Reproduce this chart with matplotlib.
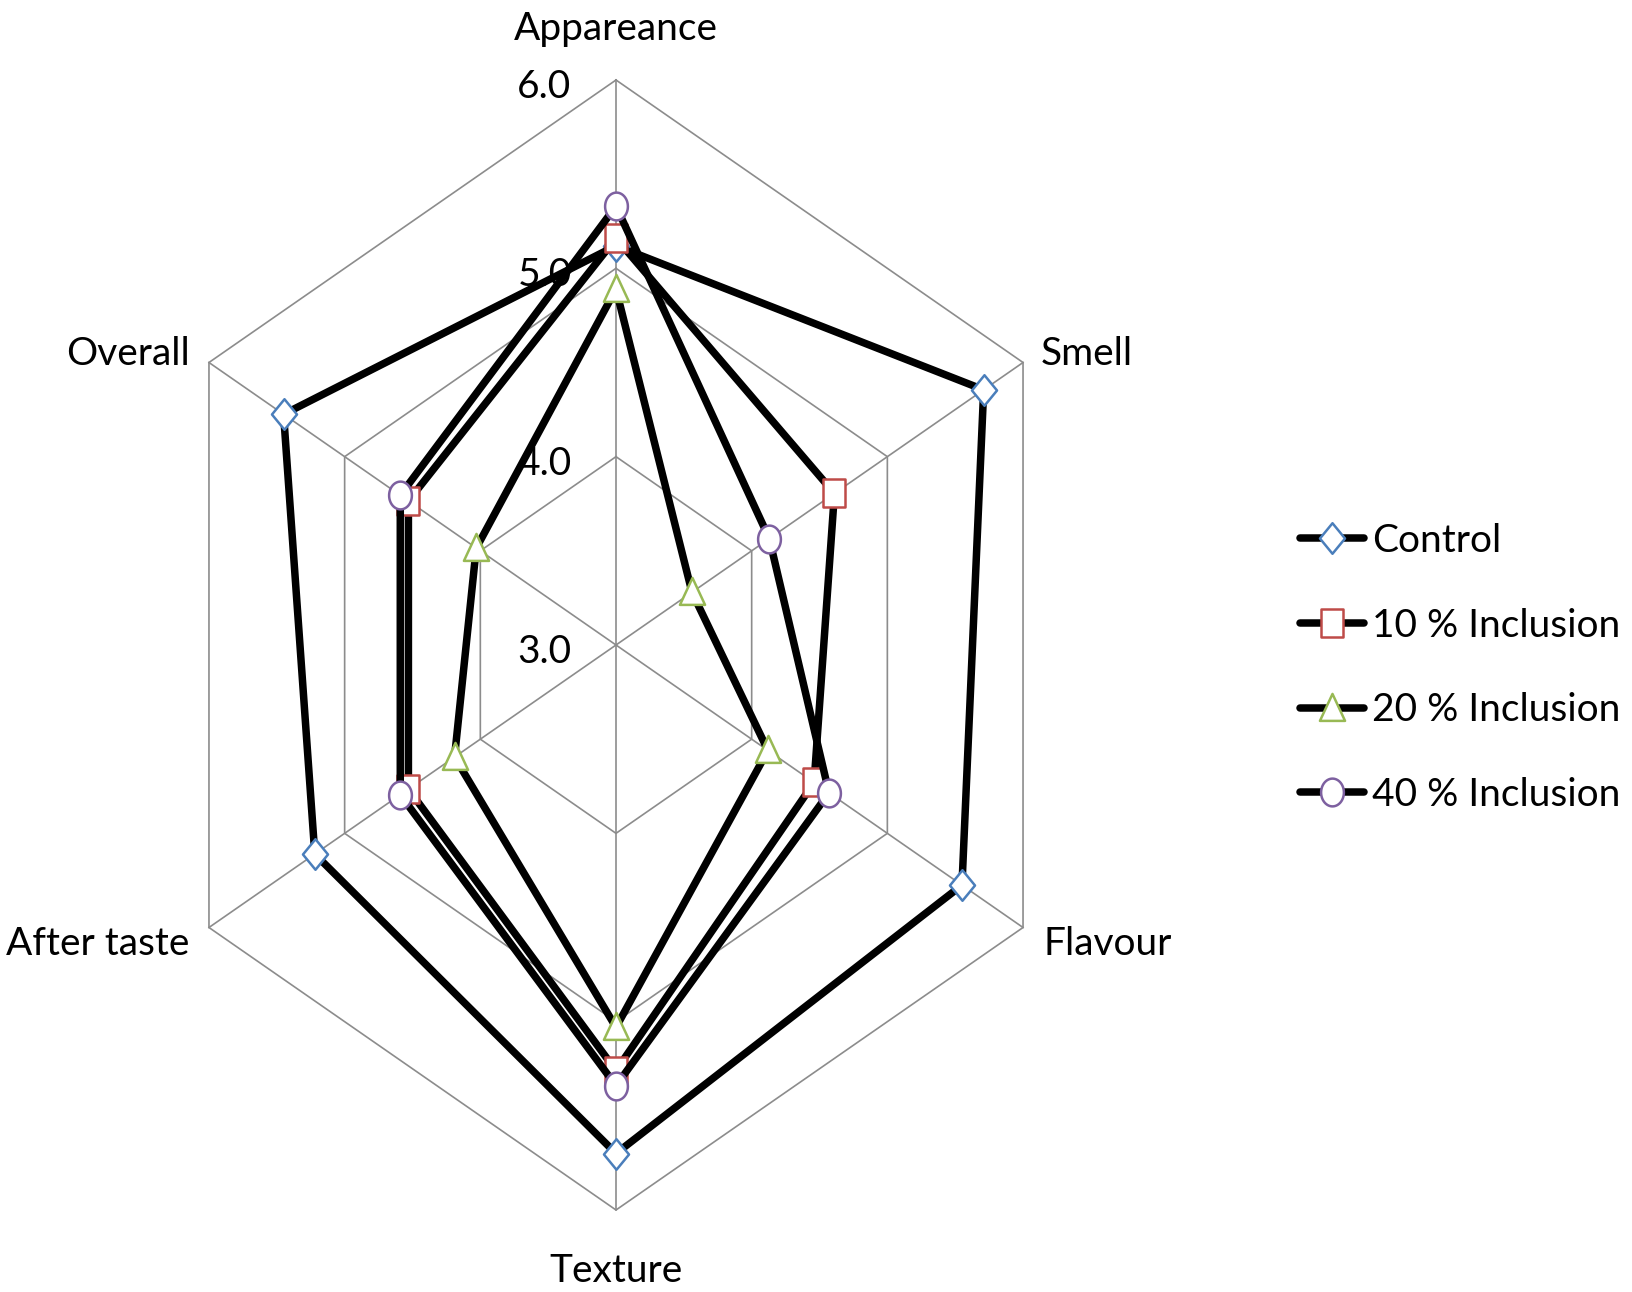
import numpy as np
import matplotlib
matplotlib.use("Agg")
import matplotlib.pyplot as plt
from matplotlib.path import Path
from matplotlib.lines import Line2D

plt.rcParams['font.family'] = ['Lato', 'DejaVu Sans']

# sensory scores
categories = ["Appareance", "Smell", "Flavour", "Texture", "After taste", "Overall"]
control = [5.12, 5.71, 5.55, 5.70, 5.22, 5.45]
incl_10 = [5.16, 4.61, 4.46, 5.26, 4.53, 4.53]
incl_20 = [4.89, 3.56, 4.12, 5.03, 4.19, 4.03]
incl_40 = [5.33, 4.13, 4.57, 5.34, 4.59, 4.59]
series_names = ["Control", "10 % Inclusion", "20 % Inclusion", "40 % Inclusion"]
ticks = [3.0, 4.0, 5.0, 6.0]

RMIN, RMAX = 3.0, 6.0
FS = 28
LW = 5.4

n = len(categories)
theta = np.arange(n) * 2 * np.pi / n


def to_xy(vals):
    r = np.asarray(vals, dtype=float) - RMIN
    return r * np.sin(theta), r * np.cos(theta)


def closed(a):
    return np.append(a, a[0])


# markers a bit taller than wide
def shape(verts):
    v = np.array(verts, dtype=float)
    v[:, 0] *= 0.82
    return Path(np.vstack([v, v[:1]]), closed=True)

t = np.linspace(0, 2 * np.pi, 60)
m_circle = Path(np.column_stack([0.82 * np.cos(t), np.sin(t)]), closed=True)
m_diamond = shape([(0, 1), (1, 0), (0, -1), (-1, 0)])
m_square = shape([(-1, -1), (1, -1), (1, 1), (-1, 1)])
m_triangle = shape([(0, 1), (1.05, -0.85), (-1.05, -0.85)])

styles = [
    (control, m_diamond, '#4a7ebb', 22),
    (incl_10, m_square, '#be4b48', 20),
    (incl_20, m_triangle, '#98b954', 21),
    (incl_40, m_circle, '#7d60a0', 20),
]

fig = plt.figure(figsize=(16.32, 12.92), dpi=100)
ax = fig.add_axes([146 / 1632, 82 / 1292, 940 / 1632, 1130 / 1292])
ax.set_xlim(-3, 3)
ax.set_ylim(-3, 3)
ax.axis('off')

grid_c = '#8c8c8c'
for tv in ticks[1:]:
    gx, gy = to_xy([tv] * n)
    ax.plot(closed(gx), closed(gy), color=grid_c, lw=1.2, zorder=1, clip_on=False)
sx, sy = to_xy([RMAX] * n)
for i in range(n):
    ax.plot([0, sx[i]], [0, sy[i]], color=grid_c, lw=1.2, zorder=1, clip_on=False)

for tv in ticks:
    ax.annotate(f"{tv:.1f}", xy=(0, tv - RMIN), xytext=(-32, -5), textcoords='offset points',
                ha='right', va='center', fontsize=FS, zorder=0)

# category labels around the web
lab_off = [((0, 37), 'center'), ((13, 6), 'left'), ((15, -12), 'left'),
           ((0, -44), 'center'), ((-14, -12), 'right'), ((-14, 6), 'right')]
for i, name in enumerate(categories):
    off, ha = lab_off[i]
    ax.annotate(name, xy=(sx[i], sy[i]), xytext=off, textcoords='offset points',
                ha=ha, va='center', fontsize=FS, annotation_clip=False)

handles = []
for k, (vals, mk, col, ms) in enumerate(styles):
    x, y = to_xy(vals)
    ax.plot(closed(x), closed(y), color='black', lw=LW, zorder=3 + k, clip_on=False,
            solid_joinstyle='miter')
    ax.plot(x, y, ls='none', marker=mk, ms=ms, mfc='white', mec=col, mew=1.8,
            zorder=3 + k, clip_on=False)
    handles.append(Line2D([], [], color='black', lw=LW, marker=mk, ms=ms,
                          mfc='white', mec=col, mew=1.8, solid_capstyle='round'))

fig.legend(handles, series_names, loc='center left', bbox_to_anchor=(1300 / 1632, 1 - 668 / 1292),
           frameon=False, fontsize=FS, handlelength=1.65, handletextpad=0.2,
           labelspacing=1.25, borderpad=0, borderaxespad=0)

fig.savefig("out.png", dpi=100)
